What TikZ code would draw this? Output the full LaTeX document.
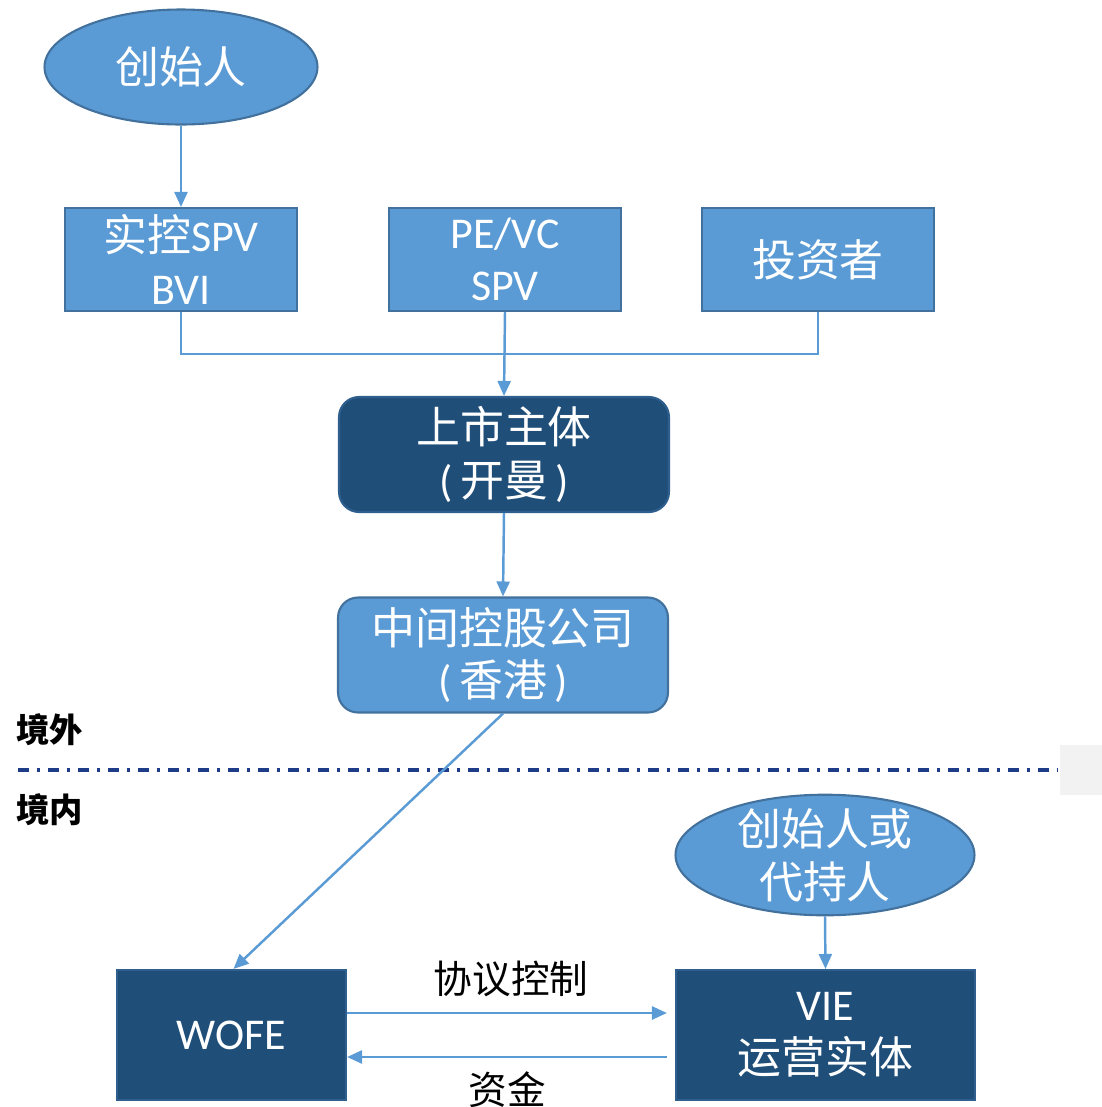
\documentclass[tikz,border=0pt]{standalone}
\usepackage{fontspec}
\setmainfont{Carlito}
\newfontfamily\cjk{Noto Sans CJK SC}
\usetikzlibrary{shapes.geometric,arrows.meta}

\definecolor{lightblue}{HTML}{5B9BD5}
\definecolor{lightedge}{HTML}{41719C}
\definecolor{darkblue}{HTML}{1F4E79}
\definecolor{darkedge}{HTML}{2E5F8E}
\definecolor{navyline}{HTML}{1F3C88}

\tikzset{
	boxtext/.style={text=white, align=center, font=\fontsize{25}{30}\selectfont},
	lightbox/.style={boxtext, rectangle, fill=lightblue, draw=lightedge, line width=1.2pt, minimum width=4.64cm, minimum height=2.06cm, inner sep=0pt},
	roundbox/.style={boxtext, rectangle, rounded corners=0.4cm, line width=1.2pt, minimum width=6.6cm, minimum height=2.3cm, inner sep=0pt},
	darkbox/.style={boxtext, rectangle, fill=darkblue, draw=darkedge, line width=1.2pt, minimum height=2.6cm, inner sep=0pt},
	oval/.style={boxtext, ellipse, fill=lightblue, draw=lightedge, line width=1.2pt, minimum height=2.3cm, inner sep=0pt},
	link/.style={draw=lightblue, line width=1.4pt},
	arrow/.style={link, -{Triangle[length=0.3cm,width=0.26cm]}},
	edgetext/.style={text=black, font=\cjk\fontsize{22}{26}\selectfont},
	sidetext/.style={text=black, font=\cjk\bfseries\fontsize{19}{22}\selectfont}
}

\begin{document}
\begin{tikzpicture}[x=0.02cm,y=-0.02cm]
	\useasboundingbox (0,0) rectangle (1102,1107);

	% top: founder and offshore holders
	\node[oval, minimum width=5.46cm] (founder) at (181,67) {\cjk 创始人};
	\node[lightbox] (spv) at (181,259.5) {{\cjk 实控}SPV\\BVI};
	\node[lightbox] (pevc) at (505,259.5) {PE/VC\\SPV};
	\node[lightbox] (investor) at (818,259.5) {\cjk 投资者};
	\coordinate (join) at (505,354);

	\node[roundbox, fill=darkblue, draw=darkedge] (listco) at (504,454.5) {{\cjk 上市主体}\\(\,{\cjk 开曼}\,)};
	\node[roundbox, fill=lightblue, draw=lightedge] (hold) at (503,655) {{\cjk 中间控股公司}\\(\,{\cjk 香港}\,)};

	% border between offshore and onshore
	\node[sidetext, anchor=west] (offshore) at (10,730) {境外};
	\node[sidetext, anchor=west] (onshore) at (10,810) {境内};
	\draw[navyline, line width=2pt, dash pattern=on 0.22cm off 0.16cm on 0.06cm off 0.16cm] (18,770) -- (1058,770);
	\fill[black!5] (1060,745) rectangle (1102,795);

	% bottom: onshore entities
	\node[oval, minimum width=5.98cm, inner ysep=-0.08cm] (nominee) at (825,855) {{\cjk 创始人或}\\{\cjk 代持人}};
	\node[darkbox, minimum width=4.58cm] (wofe) at (231.5,1035) {WOFE};
	\node[darkbox, minimum width=5.98cm] (vie) at (825.5,1035) {VIE\\{\cjk 运营实体}};

	\draw[arrow] (founder.south) -- (spv.north);
	\draw[link] (spv.south) |- (join);
	\draw[link] (investor.south) |- (join);
	\draw[arrow] (pevc.south) -- (listco.north);
	\draw[arrow] (listco.south) -- (hold.north);
	\draw[arrow] (hold.south) -- ([xshift=0.04cm]wofe.north);
	\draw[arrow] (nominee.south) -- (vie.north);
	\draw[arrow, shorten >=0.16cm] ([yshift=0.44cm]wofe.east) -- node[edgetext, above=0.18cm] (deal) {协议控制} ([yshift=0.44cm]vie.west);
	\draw[arrow] ([yshift=-0.44cm,xshift=-0.16cm]vie.west) -- node[edgetext, below=0.16cm] (fund) {资金} ([yshift=-0.44cm]wofe.east);
\end{tikzpicture}
\end{document}
